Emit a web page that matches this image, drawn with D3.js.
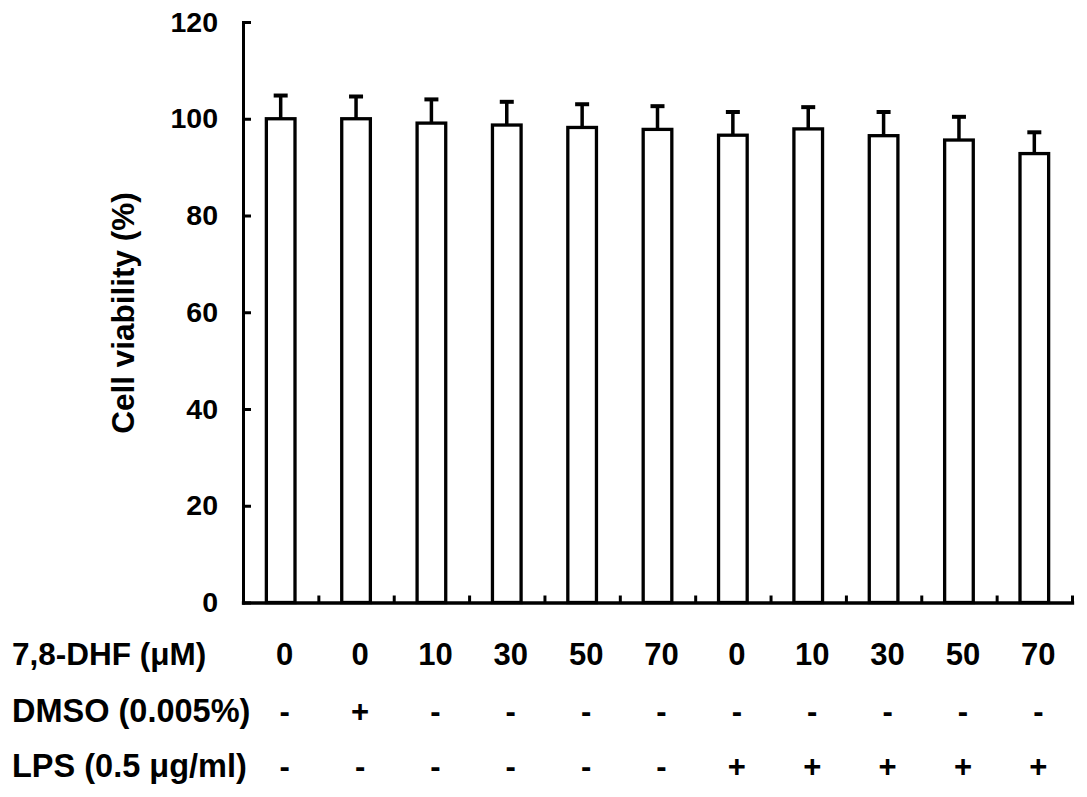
<!DOCTYPE html>
<html>
<head>
<meta charset="utf-8">
<script src="https://cdn.jsdelivr.net/npm/d3@7"></script>
<style>
  body { margin: 0; background: #fff; }
  svg text { font-family: "Liberation Sans", Arial, sans-serif; font-weight: bold; fill: #000; }
</style>
</head>
<body>
<svg id="drawing_region"></svg>
<script>
// values
const dhf = ['0', '0', '10', '30', '50', '70', '0', '10', '30', '50', '70'];
const dmso = ['-', '+', '-', '-', '-', '-', '-', '-', '-', '-', '-'];
const lps = ['-', '-', '-', '-', '-', '-', '+', '+', '+', '+', '+'];
const viability = [100, 100, 99.1, 98.7, 98.2, 97.8, 96.6, 97.9, 96.5, 95.6, 92.8];
const sd = [4.8, 4.6, 4.9, 4.8, 4.8, 4.8, 4.8, 4.5, 4.9, 4.8, 4.4];
const yTicks = [0, 20, 40, 60, 80, 100, 120];
const rowLabels = ['7,8-DHF (\u03bcM)', 'DMSO (0.005%)', 'LPS (0.5 \u03bcg/ml)'];
const yTitle = 'Cell viability (%)';

const config = {
    width: 1087,
    height: 797,
    left: 243,
    right: 1072,
    top: 22,
    bottom: 602.5
};

const svg = d3.select('#drawing_region')
    .attr('width', config.width)
    .attr('height', config.height);

const idx = d3.range(viability.length);

const x = d3.scaleBand()
    .domain(idx)
    .range([config.left, config.right])
    .paddingInner(0)
    .paddingOuter(0);

// same range, used for the small ticks between the bars
const xEdge = d3.scaleLinear()
    .domain([0, viability.length])
    .range([config.left, config.right]);

const y = d3.scaleLinear()
    .domain([0, 120])
    .range([config.bottom, config.top]);

const barW = x.bandwidth() * 0.38;

// bars
svg.selectAll('rect.bar')
    .data(idx)
    .enter()
    .append('rect')
    .attr('class', 'bar')
    .attr('x', i => x(i) + x.bandwidth() / 2 - barW / 2)
    .attr('y', i => y(viability[i]))
    .attr('width', barW)
    .attr('height', i => y(0) - y(viability[i]))
    .attr('fill', '#fff')
    .attr('stroke', '#000')
    .attr('stroke-width', 3.3);

// error bars (upper only)
const err = svg.selectAll('g.err')
    .data(idx)
    .enter()
    .append('g')
    .attr('class', 'err')
    .attr('stroke', '#000');

err.append('line')
    .attr('stroke-width', 3.5)
    .attr('x1', i => x(i) + x.bandwidth() / 2)
    .attr('x2', i => x(i) + x.bandwidth() / 2)
    .attr('y1', i => y(viability[i]))
    .attr('y2', i => y(viability[i] + sd[i]));

err.append('line')
    .attr('stroke-width', 4)
    .attr('x1', i => x(i) + x.bandwidth() / 2 - 7)
    .attr('x2', i => x(i) + x.bandwidth() / 2 + 7)
    .attr('y1', i => y(viability[i] + sd[i]))
    .attr('y2', i => y(viability[i] + sd[i]));

// y axis
const yAxis = svg.append('g')
    .attr('transform', `translate(${config.left},0)`)
    .call(d3.axisLeft(y)
        .tickValues(yTicks)
        .tickSizeInner(-8)
        .tickSizeOuter(0)
        .tickPadding(25));

yAxis.select('.domain')
    .attr('stroke-width', 3)
    .attr('stroke-linecap', 'square');
yAxis.selectAll('.tick line')
    .attr('stroke-width', 3);
yAxis.selectAll('.tick text')
    .style('font-size', '28.5px');

// x axis: ticks at the band edges, pointing up
const xAxis = svg.append('g')
    .attr('transform', `translate(0,${config.bottom})`)
    .call(d3.axisBottom(xEdge)
        .tickValues(d3.range(1, viability.length + 1))
        .tickSizeInner(-7)
        .tickSizeOuter(0)
        .tickFormat(''));

xAxis.select('.domain')
    .attr('stroke-width', 3.3)
    .attr('stroke-linecap', 'square');
xAxis.selectAll('.tick line')
    .attr('stroke-width', 3);

// y title
svg.append('text')
    .attr('transform', 'translate(134,313) rotate(-90)')
    .attr('text-anchor', 'middle')
    .style('font-size', '31.5px')
    .text(yTitle);

// treatment table under the axis
const rows = [dhf, dmso, lps];
const rowY = [665, 722, 777];
const rowSize = ['31.5px', '32.5px', '32.5px'];

svg.selectAll('text.rowlabel')
    .data(rowLabels)
    .enter()
    .append('text')
    .attr('class', 'rowlabel')
    .attr('x', 12)
    .attr('y', (d, r) => rowY[r])
    .style('font-size', (d, r) => rowSize[r])
    .text(d => d);

rows.forEach((row, r) => {
    svg.selectAll('text.cell' + r)
        .data(row)
        .enter()
        .append('text')
        .attr('class', 'cell' + r)
        .attr('x', (d, i) => x(i) + x.bandwidth() / 2 + 4)
        .attr('y', rowY[r])
        .attr('text-anchor', 'middle')
        .style('font-size', '31px')
        .text(d => d);
});
</script>
</body>
</html>
